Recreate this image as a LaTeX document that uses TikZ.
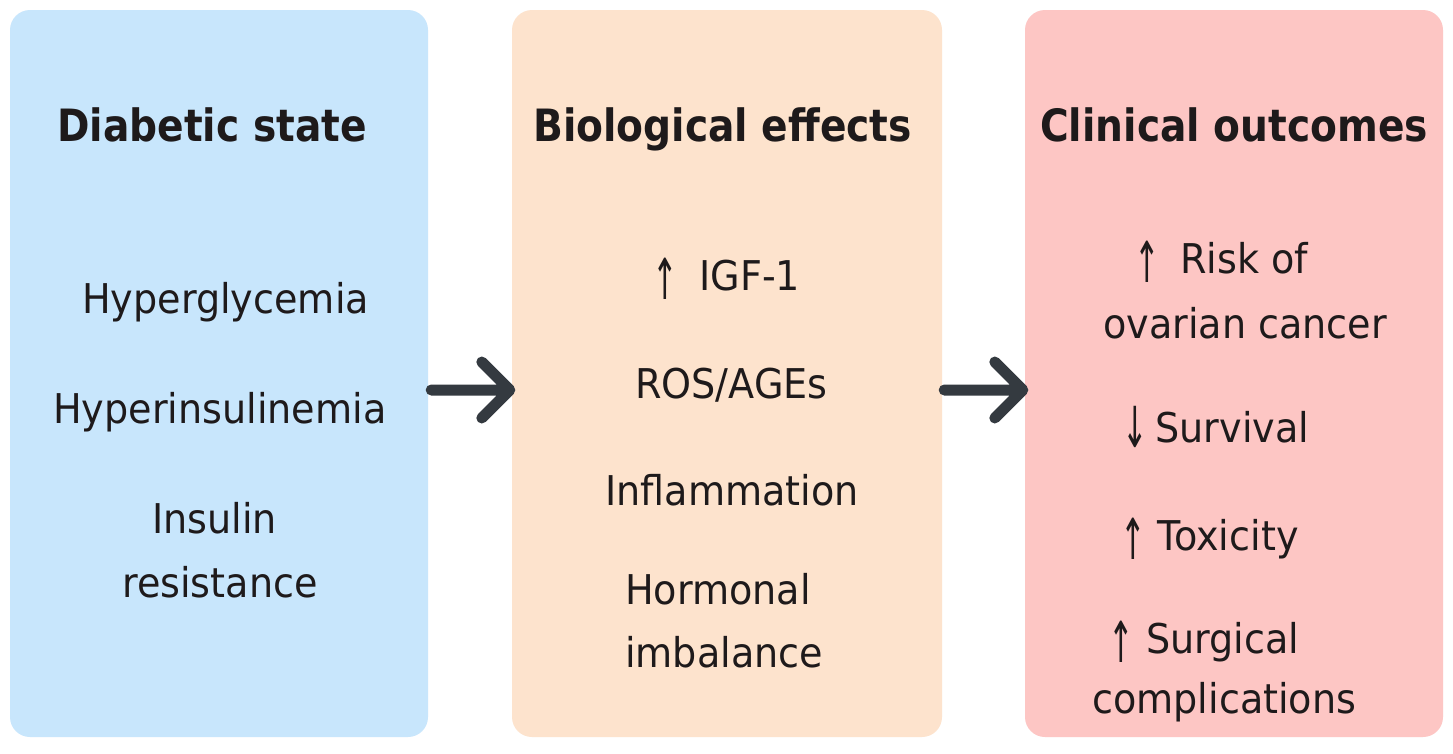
\documentclass[tikz,border=0pt]{standalone}
\usepackage{graphicx}
\usepackage{fontspec}
\setmainfont{DejaVu Sans}[FakeStretch=0.93]
\newfontfamily\headfont{DejaVu Sans}[FakeStretch=0.88]
\newcommand{\upar}{\raisebox{-9pt}{\scalebox{0.8}[1.38]{↑}}}
\newcommand{\dnar}{\raisebox{-5pt}{\scalebox{0.8}[1.38]{↓}}}
\definecolor{boxblue}{HTML}{C8E6FC}
\definecolor{boxpeach}{HTML}{FDE3CD}
\definecolor{boxpink}{HTML}{FDC6C4}
\definecolor{arrowgray}{HTML}{343A40}
\definecolor{txt}{HTML}{1E1A1B}
\begin{document}
\begin{tikzpicture}[x=1pt,y=-1pt,
  panel/.style={draw=none,rounded corners=20pt,minimum height=727pt,inner sep=0pt},
  heading/.style={anchor=base west,inner sep=0pt,text=txt,font=\headfont\bfseries\fontsize{44.5}{53}\selectfont},
  item/.style={anchor=base west,inner sep=0pt,text=txt,font=\fontsize{41}{49}\selectfont},
  flow/.style={draw=arrowgray,line width=11pt,line cap=round,line join=round}]
\useasboundingbox (0,0) rectangle (1453,753);
\fill[white] (0,0) rectangle (1453,753);
% panels
\node[panel,fill=boxblue,minimum width=418pt] (ds) at (219,373.5) {};
\node[panel,fill=boxpeach,minimum width=430pt] (be) at (727,373.5) {};
\node[panel,fill=boxpink,minimum width=418pt] (co) at (1234,373.5) {};
% headings
\node[heading] (h1) at (57,141) {Diabetic state};
\node[heading] (h2) at (533,141) {Biological effects};
\node[heading] (h3) at (1040,141) {Clinical outcomes};
% diabetic state
\node[item] (d1) at (82,313) {Hyperglycemia};
\node[item] (d2) at (53,423) {Hyperinsulinemia};
\node[item] (d3a) at (152,533) {Insulin};
\node[item] (d3b) at (122,597) {resistance};
% biological effects
\node[item] (b1) at (652,290) {\upar\hspace{21.6pt}IGF-1};
\node[item] (b2) at (635,398) {ROS/AGEs};
\node[item] (b3) at (605,505) {Inflammation};
\node[item] (b4a) at (625,604) {Hormonal};
\node[item] (b4b) at (625,667) {imbalance};
% clinical outcomes
\node[item] (c1a) at (1134.5,273) {\upar\hspace{20.1pt}Risk of};
\node[item] (c1b) at (1103,338) {ovarian cancer};
\node[item] (c2) at (1122,442) {\dnar\hspace{7.6pt}Survival};
\node[item] (c3) at (1120,550) {\upar\hspace{11.6pt}Toxicity};
\node[item] (c4a) at (1108,653) {\upar\hspace{12.6pt}Surgical};
\node[item] (c4b) at (1092,713) {complications};
% arrows
\path (ds.east) ++(3,16.5) coordinate (a1s);
\path (be.west) ++(-2,16.5) coordinate (a1e);
\path (be.east) ++(2,16.5) coordinate (a2s);
\path (co.west) ++(-2,16.5) coordinate (a2e);
\draw[flow] (a1s) -- (a1e) ++(-28,-28) -- (a1e) -- ++(-28,28);
\draw[flow] (a2s) -- (a2e) ++(-28,-28) -- (a2e) -- ++(-28,28);
\end{tikzpicture}
\end{document}
